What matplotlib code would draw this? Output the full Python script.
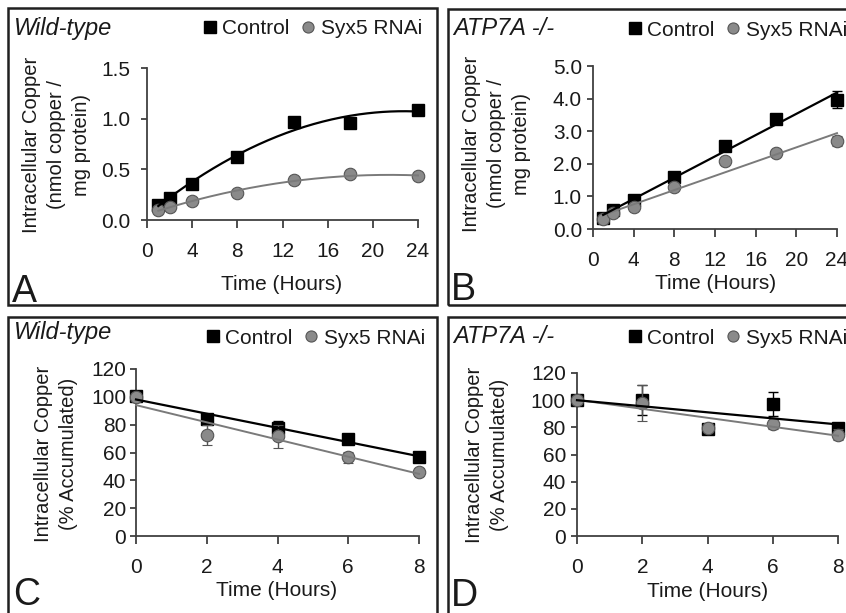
import matplotlib
matplotlib.use("Agg")
import matplotlib.pyplot as plt
from matplotlib.patches import Rectangle
from matplotlib.lines import Line2D
import numpy as np

plt.rcParams['font.family'] = ['Liberation Sans', 'DejaVu Sans']

W, H = 846, 613

# panel A / B : accumulation over 24 h
hours_acc = [1, 2, 4, 8, 13, 18, 24]
wt_ctrl = [0.15, 0.22, 0.36, 0.62, 0.97, 0.955, 1.09]
wt_ctrl_err = [0.02, 0.02, 0.02, 0.02, 0.03, 0.05, 0.03]
wt_syx5 = [0.095, 0.13, 0.19, 0.265, 0.39, 0.455, 0.43]
wt_syx5_err = [0.01, 0.01, 0.015, 0.015, 0.02, 0.02, 0.02]
ko_ctrl = [0.34, 0.57, 0.9, 1.6, 2.55, 3.38, 3.97]
ko_ctrl_err = [0.05, 0.05, 0.06, 0.08, 0.1, 0.12, 0.25]
ko_syx5 = [0.3, 0.5, 0.66, 1.3, 2.1, 2.32, 2.71]
ko_syx5_err = [0.04, 0.05, 0.05, 0.06, 0.08, 0.08, 0.15]

# panel C / D : retention over 8 h
hours_ret = [0, 2, 4, 6, 8]
wt_ctrl_ret = [100.5, 84, 77.5, 70, 56.5]
wt_ctrl_ret_err = [2, 3, 5, 2, 2]
wt_syx5_ret = [100, 72.5, 71.5, 56.5, 46.2]
wt_syx5_ret_err = [2, 7, 8, 4, 3]
ko_ctrl_ret = [100.3, 100, 78.5, 97, 79.5]
ko_ctrl_ret_err = [2, 11, 2, 9, 3]
ko_syx5_ret = [100, 98, 79.8, 82.7, 74.6]
ko_syx5_ret_err = [2, 13, 2, 4, 4]

BLACK = '#000000'
GRAY = '#8a8a8a'
GRAY_EDGE = '#555555'
AXC = '#404040'
TXT = '#1a1a1a'


def fx(x):
    return x / W


def fy(y):
    return 1 - y / H


fig = plt.figure(figsize=(W / 100, H / 100), dpi=100)

# panel frames
for x0, y0, x1, y1 in [(8, 8, 437, 305), (448, 9, 852, 305),
                       (8, 317, 437, 620), (448, 317, 852, 620)]:
    fig.patches.append(Rectangle((fx(x0), fy(y1)), fx(x1 - x0), (y1 - y0) / H,
                                 transform=fig.transFigure, fill=False,
                                 edgecolor='#202020', linewidth=1.8))


def panel(box, x, ctrl, ctrl_err, syx, syx_err, deg, xticks, yticks, yfmt,
          title, letter, tpos, lpos, legpos, ylab, ylabpos, xlabpos, ypad):
    x0, y0, x1, y1 = box
    ax = fig.add_axes([fx(x0), fy(y0), (x1 - x0) / W, (y0 - y1) / H])
    ax.errorbar(x, ctrl, yerr=ctrl_err, fmt='s', color=BLACK, ms=9,
                ecolor=BLACK, elinewidth=1, capsize=3.5, clip_on=False,
                zorder=3)
    ax.errorbar(x, syx, yerr=syx_err, fmt='o', color=GRAY, mec=GRAY_EDGE,
                mew=0.8, ms=9, ecolor=GRAY_EDGE, elinewidth=1, capsize=3.5,
                clip_on=False, zorder=4)
    xs = np.linspace(min(x), max(x), 200)
    ax.plot(xs, np.polyval(np.polyfit(x, syx, deg), xs), color='#7a7a7a',
            lw=1.4, zorder=5, clip_on=False)
    ax.plot(xs, np.polyval(np.polyfit(x, ctrl, deg), xs), color=BLACK,
            lw=1.6, zorder=6, clip_on=False)
    ax.set_xlim(xticks[0], xticks[-1])
    ax.set_ylim(yticks[0], yticks[-1])
    ax.set_xticks(xticks)
    ax.set_yticks(yticks)
    ax.set_yticklabels([yfmt % v for v in yticks])
    for s in ['top', 'right']:
        ax.spines[s].set_visible(False)
    for s in ['left', 'bottom']:
        ax.spines[s].set_color(AXC)
        ax.spines[s].set_linewidth(1.3)
    ax.tick_params(axis='x', direction='out', length=5.5, width=1.3,
                   color=AXC, pad=10, labelsize=15, labelcolor=TXT)
    ax.tick_params(axis='y', direction='out', length=4, width=1.3,
                   color=AXC, pad=ypad, labelsize=15, labelcolor=TXT)
    ax.set_xlabel('Time (Hours)', fontsize=15, color=TXT)
    ax.xaxis.set_label_coords(fx(xlabpos[0]), fy(xlabpos[1]),
                              transform=fig.transFigure)
    ax.set_ylabel(ylab, fontsize=14.5, linespacing=1.4, color=TXT)
    ax.yaxis.set_label_coords(fx(ylabpos[0]), fy(ylabpos[1]),
                              transform=fig.transFigure)
    fig.text(fx(tpos[0]), fy(tpos[1]), title, fontsize=17, style='italic',
             va='baseline', ha='left', color=TXT)
    fig.text(fx(lpos[0]), fy(lpos[1]), letter, fontsize=27, va='baseline',
             ha='left', color=TXT)
    handles = [Line2D([], [], ls='none', marker='s', ms=8, color=BLACK),
               Line2D([], [], ls='none', marker='o', ms=8, color=GRAY,
                      mec=GRAY_EDGE, mew=0.8)]
    leg = ax.legend(handles, ['Control', 'Syx5 RNAi'], loc='center right',
                    bbox_to_anchor=(fx(legpos[0]), fy(legpos[1])),
                    bbox_transform=fig.transFigure, ncol=2, frameon=False,
                    fontsize=15, handlelength=0.6, handletextpad=0.3,
                    columnspacing=0.6, borderpad=0, borderaxespad=0)
    for t in leg.get_texts():
        t.set_color(TXT)
    return ax


ylab_acc = 'Intracellular Copper\n(nmol copper /\nmg protein)'
ylab_ret = 'Intracellular Copper\n(% Accumulated)'

panel((147, 220, 418, 68), hours_acc, wt_ctrl, wt_ctrl_err, wt_syx5, wt_syx5_err,
      2, [0, 4, 8, 12, 16, 20, 24], [0, 0.5, 1.0, 1.5], '%.1f',
      'Wild-type', 'A', (14, 35), (12, 302), (422, 29), ylab_acc,
      (91, 145), (282, 275), 8)

panel((593, 229, 837, 66), hours_acc, ko_ctrl, ko_ctrl_err, ko_syx5, ko_syx5_err,
      1, [0, 4, 8, 12, 16, 20, 24], [0, 1.0, 2.0, 3.0, 4.0, 5.0], '%.1f',
      'ATP7A -/-', 'B', (453, 35), (451, 300), (847, 30), ylab_acc,
      (531, 144), (716, 274), 4)

panel((136, 536, 419, 369), hours_ret, wt_ctrl_ret, wt_ctrl_ret_err,
      wt_syx5_ret, wt_syx5_ret_err, 1, [0, 2, 4, 6, 8],
      [0, 20, 40, 60, 80, 100, 120], '%d',
      'Wild-type', 'C', (14, 339), (13, 605), (425, 338), ylab_ret,
      (78, 454), (277, 581), 3)

panel((577, 536, 838, 373), hours_ret, ko_ctrl_ret, ko_ctrl_ret_err,
      ko_syx5_ret, ko_syx5_ret_err, 1, [0, 2, 4, 6, 8],
      [0, 20, 40, 60, 80, 100, 120], '%d',
      'ATP7A -/-', 'D', (453, 343), (451, 606), (847, 338), ylab_ret,
      (509, 455), (708, 582), 4)

fig.savefig('out.png', dpi=100)
